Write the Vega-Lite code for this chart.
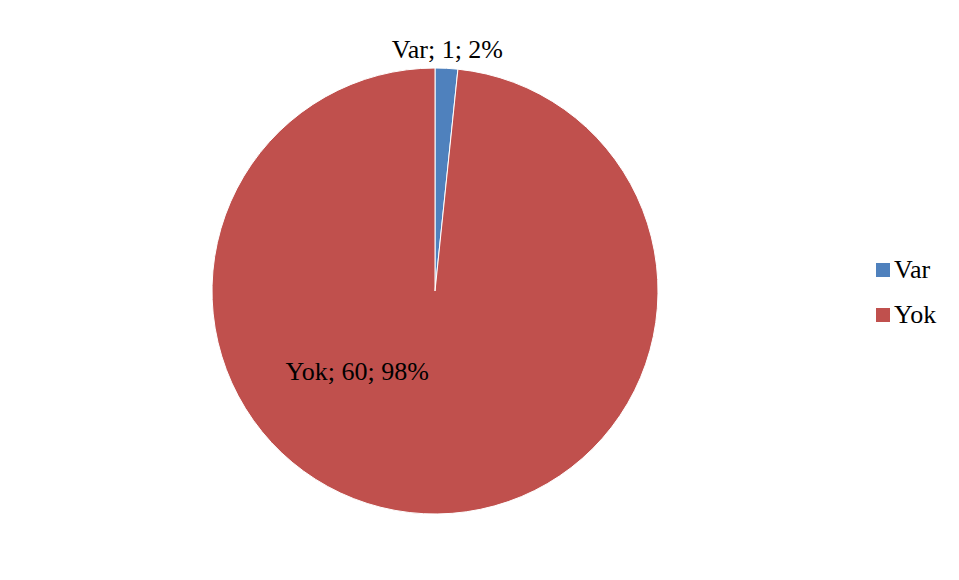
{
  "$schema": "https://vega.github.io/schema/vega-lite/v6.json",
  "autosize": {"type": "none"},
  "width": 870,
  "height": 580,
  "padding": {"left": 0, "top": 1, "right": 89, "bottom": 0},
  "background": "white",
  "config": {"view": {"stroke": null}, "font": "Liberation Serif"},
  "data": {"values": [
    {"category": "Var", "count": 1, "label": "Var; 1; 2%"},
    {"category": "Yok", "count": 60, "label": "Yok; 60; 98%"}
  ]},
  "layer": [
    {
      "mark": {"type": "arc", "outerRadius": 223, "stroke": "white", "strokeWidth": 1},
      "encoding": {
        "theta": {"field": "count", "type": "quantitative", "stack": true},
        "color": {
          "field": "category", "type": "nominal",
          "scale": {"domain": ["Var", "Yok"], "range": ["#4F81BD", "#C0504D"]},
          "legend": {
            "title": null, "orient": "none", "legendX": 870, "legendY": 256, "padding": 0,
            "symbolType": "square", "symbolSize": 196, "symbolStrokeWidth": 0,
            "labelFont": "Liberation Serif", "labelFontSize": 26, "labelColor": "black",
            "labelOffset": -2, "rowPadding": 19
          }
        }
      }
    },
    {
      "transform": [{"filter": "datum.category == 'Var'"}],
      "mark": {"type": "text", "font": "Liberation Serif", "fontSize": 26, "color": "black", "align": "center", "baseline": "middle"},
      "encoding": {
        "theta": {"value": 0.0515},
        "radius": {"value": 241},
        "text": {"field": "label"}
      }
    },
    {
      "transform": [{"filter": "datum.category == 'Yok'"}],
      "mark": {"type": "text", "font": "Liberation Serif", "fontSize": 26, "color": "black", "align": "center", "baseline": "middle"},
      "encoding": {
        "theta": {"value": 3.91},
        "radius": {"value": 112},
        "text": {"field": "label"}
      }
    }
  ]
}
